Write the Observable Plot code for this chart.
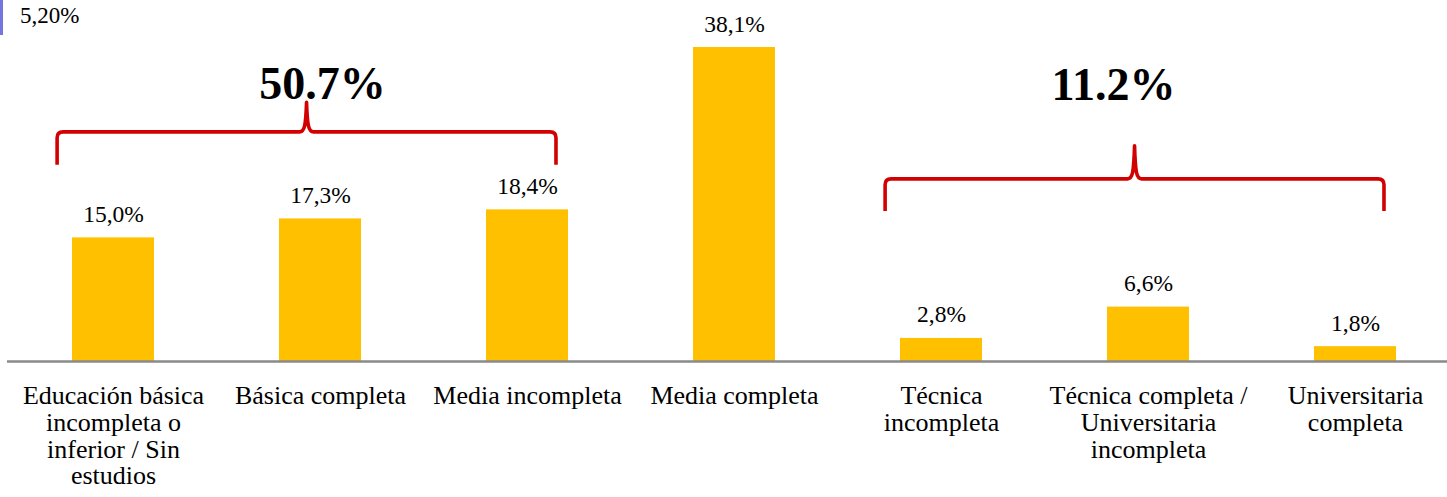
<!DOCTYPE html>
<html><head><meta charset="utf-8">
<script src="https://cdn.jsdelivr.net/npm/d3@7"></script>
<script src="https://cdn.jsdelivr.net/npm/@observablehq/plot@0.6"></script>
<style>
body{margin:0;background:#fff;}
#wrap{position:relative;width:1447px;height:497px;overflow:hidden;font-family:"Liberation Serif","Times New Roman",serif;background:#fff;}
#note{position:absolute;left:20px;top:3px;font-size:23px;line-height:26px;color:#000;z-index:2;}
#mark{position:absolute;left:0;top:0;width:3px;height:35px;background:#7575e0;z-index:2;}
</style></head><body>
<div id="wrap"></div>
<script>
// ---- data ----
const categories = [
  "Educación básica incompleta o inferior / Sin estudios",
  "Básica completa",
  "Media incompleta",
  "Media completa",
  "Técnica incompleta",
  "Técnica completa / Universitaria incompleta",
  "Universitaria completa"
];
const values = [15.0, 17.3, 18.4, 38.1, 2.8, 6.6, 1.8];
const tickLabels = [
  "Educación básica\nincompleta o\ninferior / Sin\nestudios",
  "Básica completa",
  "Media incompleta",
  "Media completa",
  "Técnica\nincompleta",
  "Técnica completa /\nUniversitaria\nincompleta",
  "Universitaria\ncompleta"
];
const groupFrom = ["Educación básica incompleta o inferior / Sin estudios", "Técnica incompleta"];
const groupTo = ["Media incompleta", "Universitaria completa"];
const groupLabels = ["50.7%", "11.2%"];
const noteText = "5,20%";

// ---- annotation geometry (data units on y) ----
const bracketGeom = [
  {h: 27.8, end: 23.8, peak: 31.4, labelY: 31.8, dx: 16},
  {h: 22.1, end: 18.2, peak: 26.1, labelY: 31.7, dx: -21}
];

const rows = categories.map((c, i) => ({category: c, value: values[i], tick: tickLabels[i]}));
const fmt = v => v.toFixed(1).replace(".", ",") + "%";

function brackets(index, scales) {
  const x = scales.x, y = scales.y;
  const bw = typeof x.bandwidth === "function" ? x.bandwidth() : 0;
  const step = typeof x.step === "function" ? x.step() : bw;
  const g = d3.create("svg:g");
  bracketGeom.forEach((b, i) => {
    const x0 = x(groupFrom[i]) + bw / 2 - 0.27 * step;
    const x1 = x(groupTo[i]) + bw / 2 + 0.14 * step;
    const xc = (x0 + x1) / 2;
    const yh = y(b.h), ye = y(b.end), yp = y(b.peak);
    const r = 6;
    const d = `M${x0},${ye} L${x0},${yh + r} Q${x0},${yh} ${x0 + r},${yh}` +
      ` L${xc - 7},${yh} C${xc - 2},${yh} ${xc - 0.8},${yh - 6} ${xc},${yp}` +
      ` C${xc + 0.8},${yh - 6} ${xc + 2},${yh} ${xc + 7},${yh}` +
      ` L${x1 - r},${yh} Q${x1},${yh} ${x1},${yh + r} L${x1},${ye}`;
    g.append("path").attr("d", d).attr("fill", "none")
      .attr("stroke", "#d20000").attr("stroke-width", 3.6)
      .attr("stroke-linejoin", "round");
    g.append("text").attr("x", xc + b.dx).attr("y", y(b.labelY))
      .attr("text-anchor", "middle").attr("font-size", 46).attr("font-weight", "bold")
      .attr("fill", "#000").text(groupLabels[i]);
  });
  return g.node();
}

const chart = Plot.plot({
  width: 1447,
  height: 497,
  marginTop: 47,
  marginBottom: 136,
  marginLeft: 7,
  marginRight: 0,
  style: {fontFamily: "'Liberation Serif', 'Times New Roman', serif", background: "#fff", color: "#000", overflow: "visible"},
  x: {domain: categories, range: [7, 1461], paddingInner: 0.605, paddingOuter: 0.3025, axis: null},
  y: {domain: [0, 38.1], axis: null},
  marks: [
    Plot.barY(rows, {x: "category", y: "value", fill: "#FFC000"}),
    Plot.ruleY([0], {stroke: "#8a8a8a", strokeWidth: 2.5}),
    Plot.text(rows, {x: "category", y: "value", text: d => fmt(d.value), lineAnchor: "bottom", dy: -16, fontSize: 23.5, fill: "#000"}),
    Plot.text(rows, {x: "category", y: d => 0, text: "tick", lineAnchor: "top", dy: 23.5, fontSize: 26, lineHeight: 1.03, fill: "#000"}),
    brackets
  ]
});
const wrap = document.getElementById("wrap");
wrap.appendChild(chart);
const mark = document.createElement("div"); mark.id = "mark"; wrap.appendChild(mark);
const note = document.createElement("div"); note.id = "note"; note.textContent = noteText; wrap.appendChild(note);
</script>
</body></html>
